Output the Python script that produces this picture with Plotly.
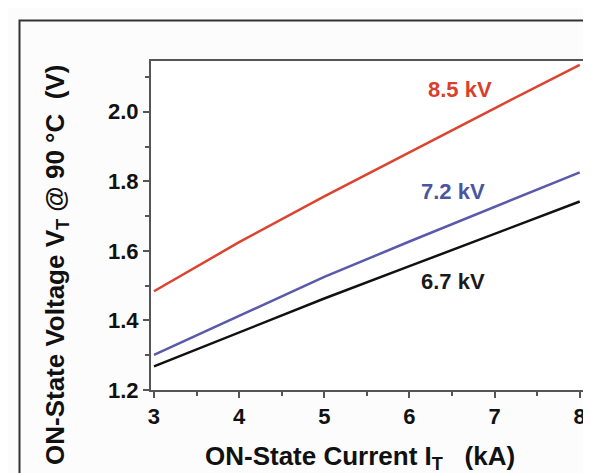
import plotly.graph_objects as go

current_kA = [3, 4, 5, 6, 7, 8]
v_85kV = [1.484, 1.625, 1.757, 1.884, 2.010, 2.135]
v_72kV = [1.301, 1.414, 1.525, 1.627, 1.727, 1.826]
v_67kV = [1.268, 1.366, 1.463, 1.556, 1.650, 1.742]

series_names = ["8.5 kV", "7.2 kV", "6.7 kV"]
series_colors = ["#dc4430", "#5a5aaa", "#111111"]
label_colors = ["#d9402c", "#4a55a0", "#1a1a1a"]
label_x = [6.59, 6.51, 6.51]
label_y = [2.063, 1.771, 1.512]

x_ticks = [3, 4, 5, 6, 7, 8]
y_ticks = [1.2, 1.4, 1.6, 1.8, 2.0]

W, H = 591, 473
ml, mr, mt, mb = 143, 15, 53, 91
pw, ph = W - ml - mr, H - mt - mb

fig = go.Figure()
for name, ys, col in zip(series_names, [v_85kV, v_72kV, v_67kV], series_colors):
    fig.add_trace(go.Scatter(x=current_kA, y=ys, mode="lines", name=name,
                             line=dict(color=col, width=2.5), showlegend=False))

FONT = "Liberation Sans, Arial, sans-serif"
for name, lx, ly, col in zip(series_names, label_x, label_y, label_colors):
    fig.add_annotation(x=lx, y=ly, text="<b>%s</b>" % name, showarrow=False,
                       font=dict(family=FONT, size=22, color=col))

def px2paper_x(px):
    return (px - ml) / pw

def px2paper_y(py):
    return (H - mb - py) / ph

# axis titles as annotations positioned in pixels
fig.add_annotation(xref="paper", yref="paper", x=px2paper_x(48), y=px2paper_y(257),
                   text="<b>ON-State Voltage V<sub>T</sub> @ 90 °C\u00a0\u00a0(V)</b>",
                   textangle=-90, showarrow=False, xanchor="center", yanchor="middle",
                   font=dict(family=FONT, size=26, color="#111111"))
fig.add_annotation(xref="paper", yref="paper", x=px2paper_x(352), y=px2paper_y(449),
                   text="<b>ON-State Current I<sub>T</sub>\u00a0\u00a0\u00a0(kA)</b>",
                   showarrow=False, xanchor="center", yanchor="middle",
                   font=dict(family=FONT, size=26, color="#111111"))

# outer frame
fig.add_shape(type="rect", xref="paper", yref="paper",
              x0=px2paper_x(11.5), y0=px2paper_y(H + 20), x1=px2paper_x(W + 20), y1=px2paper_y(12.5),
              line=dict(color="#333333", width=2), fillcolor="rgba(0,0,0,0)", layer="below")

axis_common = dict(showgrid=False, zeroline=False, showline=True, linecolor="#555555",
                   linewidth=2, mirror=True, ticks="outside", tickcolor="#555555",
                   tickwidth=1.5, ticklen=6,
                   tickfont=dict(family=FONT, size=22, color="#111111"))

fig.update_xaxes(range=[2.965, 8.05], tickvals=x_ticks,
                 ticktext=["<b>%d</b>" % v for v in x_ticks],
                 minor=dict(ticks="outside", ticklen=4, dtick=0.5, tick0=3, tickcolor="#555555", tickwidth=1.5),
                 **axis_common)
fig.update_yaxes(range=[1.2, 2.146], tickvals=y_ticks,
                 ticktext=["<b>%.1f</b>" % v for v in y_ticks],
                 minor=dict(ticks="outside", ticklen=4, dtick=0.1, tick0=1.2, tickcolor="#555555", tickwidth=1.5),
                 **axis_common)

fig.update_layout(width=W, height=H, margin=dict(l=ml, r=mr, t=mt, b=mb),
                  paper_bgcolor="#fcfcfc", plot_bgcolor="#ffffff",
                  font=dict(family=FONT))

fig.write_html("out.html")
